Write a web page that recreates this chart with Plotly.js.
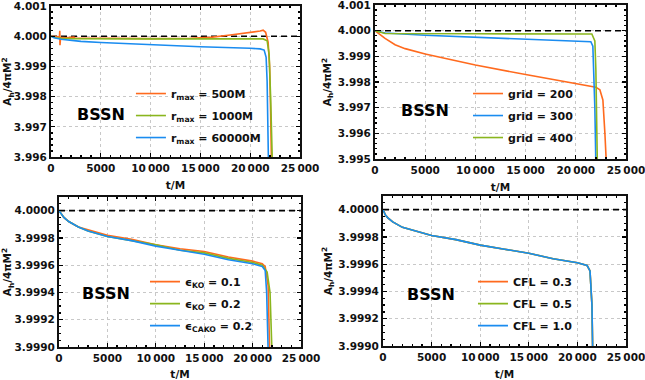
<!DOCTYPE html>
<html><head><meta charset="utf-8">
<script src="https://cdn.plot.ly/plotly-3.0.1.min.js"></script>
<style>html,body{margin:0;padding:0;background:#fff}#c{width:645px;height:380px}</style>
</head><body><div id="c"></div>
<script>
// ---- Data ----
// Panel 1: r_max
const t1_500 = [0, 500, 850, 880, 900, 920, 960, 1500, 2300, 2400, 5000, 10000, 14000, 16000, 18000, 20000, 21000, 21300, 21550, 21800, 21950, 22050, 22150];
const a1_500 = [4.0, 3.99998, 3.99998, 4.00018, 3.99970, 3.99998, 3.99996, 3.99995, 3.99997, 3.99994, 3.99993, 3.99992, 3.99993, 3.99996, 4.00004, 4.00012, 4.00017, 4.00020, 4.00013, 3.9998, 3.9990, 3.9975, 3.9955];
const t1_1000 = [0, 500, 1000, 2000, 10000, 20000, 21300, 21700, 21900, 22050, 22150, 22250];
const a1_1000 = [4.0, 3.99995, 3.99993, 3.99992, 3.99991, 3.99991, 3.99991, 3.99985, 3.99940, 3.9980, 3.9967, 3.9955];
const t1_60000 = [0, 300, 1000, 2000, 3000, 5000, 10000, 15000, 20000, 21000, 21400, 21600, 21700, 21800, 21850];
const a1_60000 = [4.0, 3.99995, 3.99990, 3.99986, 3.99983, 3.99979, 3.99971, 3.99965, 3.99960, 3.99958, 3.99954, 3.99930, 3.9985, 3.9970, 3.9955];

// Panel 2: grid
const t2_200 = [0, 500, 1000, 2000, 3000, 5000, 10000, 15000, 20000, 22000, 22400, 22700, 22900, 23050];
const a2_200 = [4.0, 3.99985, 3.99970, 3.99945, 3.99930, 3.99909, 3.99866, 3.99829, 3.99794, 3.99780, 3.99770, 3.99730, 3.99600, 3.9948];
const t2_300 = [0, 1000, 5000, 10000, 15000, 20000, 21500, 21700, 21800, 21900, 22000];
const a2_300 = [4.0, 3.99991, 3.99982, 3.99975, 3.99969, 3.99961, 3.99957, 3.99940, 3.99850, 3.99700, 3.9948];
const t2_400 = [0, 500, 1000, 10000, 21600, 21900, 22000, 22100, 22150];
const a2_400 = [4.0, 3.99993, 3.99989, 3.99988, 3.99987, 3.99960, 3.99850, 3.99600, 3.9948];

// Panel 3: dissipation
const t3 = [0, 250, 500, 1000, 1500, 2000, 3000, 4000, 5000, 7500, 10000, 12500, 15000, 17500, 20000, 21000];
const a3_ko01 = [4.0, 3.99997, 3.99995, 3.99992, 3.99990, 3.99988, 3.99986, 3.99984, 3.99982, 3.99979, 3.99975, 3.99972, 3.99970, 3.99966, 3.99963, 3.99961];
const a3_ko02 = [4.0, 3.99997, 3.99995, 3.99992, 3.99990, 3.99988, 3.99985, 3.99983, 3.99981, 3.99978, 3.99975, 3.99971, 3.99969, 3.99965, 3.99962, 3.99960];
const a3_cako = [4.0, 3.99997, 3.99995, 3.99992, 3.99990, 3.99988, 3.99985, 3.99983, 3.99981, 3.99978, 3.99974, 3.99971, 3.99968, 3.99964, 3.99961, 3.99959];
const t3_ko01_end = [21300, 21600, 21700, 21800];
const a3_ko01_end = [3.99959, 3.99945, 3.99920, 3.99885];
const t3_ko02_end = [21500, 21800, 21950, 22050];
const a3_ko02_end = [3.99955, 3.99940, 3.99910, 3.99885];
const t3_cako_end = [21300, 21450, 21550, 21650];
const a3_cako_end = [3.99956, 3.99940, 3.99915, 3.99885];

// Panel 4: CFL
const t4 = [0, 250, 500, 1000, 1500, 2000, 3000, 4000, 5000, 7500, 10000, 12500, 15000, 17500, 20000, 21000, 21300, 21500, 21600];
const a4_cfl03 = [4.0, 3.99996, 3.99994, 3.99991, 3.99989, 3.99987, 3.99985, 3.99983, 3.99981, 3.99978, 3.99974, 3.99971, 3.99968, 3.99964, 3.99961, 3.99959, 3.99955, 3.99930, 3.99885];
const a4_cfl05 = [4.0, 3.99996, 3.99994, 3.99991, 3.99989, 3.99987, 3.99985, 3.99983, 3.99981, 3.99978, 3.99974, 3.99971, 3.99968, 3.99964, 3.99961, 3.99959, 3.99955, 3.99930, 3.99885];
const a4_cfl10 = [4.0, 3.99996, 3.99994, 3.99991, 3.99989, 3.99987, 3.99985, 3.99983, 3.99981, 3.99978, 3.99974, 3.99971, 3.99968, 3.99964, 3.99961, 3.99959, 3.99955, 3.99930, 3.99885];

const refT = [0, 25000];
const refA = [4.0, 4.0];

const xTickVals = [0, 5000, 10000, 15000, 20000, 25000];
const xTickText = ['0', '5000', '10\u2009000', '15\u2009000', '20\u2009000', '25\u2009000'];
const yTicks1 = [3.996, 3.997, 3.998, 3.999, 4.000, 4.001];
const yTicks2 = [3.995, 3.996, 3.997, 3.998, 3.999, 4.000, 4.001];
const yTicks34 = [3.9990, 3.9992, 3.9994, 3.9996, 3.9998, 4.0000];

const names1 = ['r<sub>max</sub> = 500M', 'r<sub>max</sub> = 1000M', 'r<sub>max</sub> = 60000M'];
const names2 = ['grid = 200', 'grid = 300', 'grid = 400'];
const names3 = ['\u03f5<sub>KO</sub> = 0.1', '\u03f5<sub>KO</sub> = 0.2', '\u03f5<sub>CAKO</sub> = 0.2'];
const names4 = ['CFL = 0.3', 'CFL = 0.5', 'CFL = 1.0'];

// ---- Styles ----
const ORANGE = '#ff6a1e', GREEN = '#8ab61e', BLUE = '#1a8cf0';
const FONT = 'DejaVu Sans';
const LW = 1.6;

let gid = 0;
function line(x, y, color, name, xa, ya, leg) {
  gid += 1;
  return {type: 'scatter', mode: 'lines', x: x, y: y, name: name, xaxis: xa, yaxis: ya,
          legend: leg, legendgroup: 'g' + gid, showlegend: true,
          line: {color: color, width: LW}, hoverinfo: 'skip'};
}
function ref(xa, ya) {
  return {type: 'scatter', mode: 'lines', x: refT, y: refA, xaxis: xa, yaxis: ya, showlegend: false,
          line: {color: '#000', width: 1.6, dash: '6px,4px'}, hoverinfo: 'skip'};
}

const traces = [
  ref('x', 'y'),
  line(t1_500, a1_500, ORANGE, names1[0], 'x', 'y', 'legend'),
  line(t1_1000, a1_1000, GREEN, names1[1], 'x', 'y', 'legend'),
  line(t1_60000, a1_60000, BLUE, names1[2], 'x', 'y', 'legend'),

  ref('x2', 'y2'),
  line(t2_200, a2_200, ORANGE, names2[0], 'x2', 'y2', 'legend2'),
  line(t2_300, a2_300, BLUE, names2[1], 'x2', 'y2', 'legend2'),
  line(t2_400, a2_400, GREEN, names2[2], 'x2', 'y2', 'legend2'),

  ref('x3', 'y3'),
  line(t3.concat(t3_ko01_end), a3_ko01.concat(a3_ko01_end), ORANGE, names3[0], 'x3', 'y3', 'legend3'),
  line(t3.concat(t3_ko02_end), a3_ko02.concat(a3_ko02_end), GREEN, names3[1], 'x3', 'y3', 'legend3'),
  line(t3.concat(t3_cako_end), a3_cako.concat(a3_cako_end), BLUE, names3[2], 'x3', 'y3', 'legend3'),

  ref('x4', 'y4'),
  line(t4, a4_cfl03, ORANGE, names4[0], 'x4', 'y4', 'legend4'),
  line(t4, a4_cfl05, GREEN, names4[1], 'x4', 'y4', 'legend4'),
  line(t4, a4_cfl10, BLUE, names4[2], 'x4', 'y4', 'legend4'),
];

const tickFont = {family: FONT, size: 10.5, color: '#111', weight: 'bold'};
const titleFont = {family: FONT, size: 10.5, color: '#111', weight: 'bold'};

function xaxis(domain, anchor) {
  return {domain: domain, anchor: anchor, range: [0, 25000], tickvals: xTickVals, ticktext: xTickText,
          ticks: 'inside', ticklen: 4, tickwidth: 1.3, tickcolor: '#000', mirror: 'allticks',
          showline: true, linecolor: '#111', linewidth: 2, zeroline: false,
          showgrid: true, gridcolor: '#c8c8c8', griddash: 'dot', gridwidth: 1,
          minor: {dtick: 1000, tick0: 0, ticks: 'inside', ticklen: 2, tickcolor: '#000', showgrid: false},
          tickfont: tickFont, ticklabeloverflow: 'allow',
          title: {text: 't/M', font: titleFont, standoff: 9}, automargin: false};
}
function yaxis(domain, anchor, range, tv, fmt, minorDt) {
  return {domain: domain, anchor: anchor, range: range, tickvals: tv, tickformat: fmt,
          ticks: 'inside', ticklen: 4, tickwidth: 1.3, tickcolor: '#000', mirror: 'allticks',
          showline: true, linecolor: '#111', linewidth: 2, zeroline: false,
          showgrid: true, gridcolor: '#c8c8c8', griddash: 'dot', gridwidth: 1,
          minor: {dtick: minorDt, ticks: 'inside', ticklen: 2, tickcolor: '#000', showgrid: false},
          tickfont: tickFont, ticklabeloverflow: 'allow',
          title: {text: 'A<sub>h</sub>/4\u03c0M<sup>2</sup>', font: titleFont, standoff: 4}, automargin: false};
}
function legend(x, y) {
  return {x: x, y: y, xanchor: 'left', yanchor: 'top', bgcolor: 'rgba(0,0,0,0)', traceorder: 'grouped',
          font: {family: FONT, size: 11, color: '#111', weight: 'bold'}, itemwidth: 30, tracegroupgap: 3};
}
function bssn(x, y) {
  return {text: 'BSSN', x: x, y: y, xref: 'paper', yref: 'paper', xanchor: 'center', yanchor: 'middle',
          showarrow: false, font: {family: FONT, size: 16, color: '#000', weight: 'bold'}};
}

const layout = {
  width: 645, height: 380, margin: {l: 0, r: 0, t: 0, b: 0},
  paper_bgcolor: '#fff', plot_bgcolor: '#fff',
  xaxis: xaxis([0.0791, 0.4651], 'y'),
  yaxis: yaxis([0.5868, 0.9842], 'x', [3.996, 4.001], yTicks1, '.3f', 0.0002),
  xaxis2: xaxis([0.5814, 0.9705], 'y2'),
  yaxis2: yaxis([0.5816, 0.9868], 'x2', [3.995, 4.001], yTicks2, '.3f', 0.0002),
  xaxis3: xaxis([0.0915, 0.4667], 'y3'),
  yaxis3: yaxis([0.0868, 0.4816], 'x3', [3.999, 4.0001], yTicks34, '.4f', 0.00005),
  xaxis4: xaxis([0.5938, 0.9705], 'y4'),
  yaxis4: yaxis([0.0895, 0.4842], 'x4', [3.999, 4.0001], yTicks34, '.4f', 0.00005),
  legend: legend(0.203, 0.792),
  legend2: legend(0.7256, 0.792),
  legend3: legend(0.2248, 0.297),
  legend4: legend(0.7333, 0.297),
  annotations: [bssn(0.1566, 0.70), bssn(0.659, 0.7105), bssn(0.1643, 0.2289), bssn(0.668, 0.2237)],
};

Plotly.newPlot('c', traces, layout, {staticPlot: true, displayModeBar: false});
</script>
</body></html>
